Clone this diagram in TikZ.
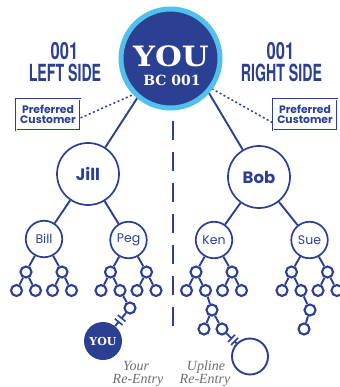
\documentclass[tikz,border=0pt]{standalone}
\usepackage{fontspec}
\setmainfont{Poppins}
\newfontfamily\slabfont{DejaVu Serif}
\newfontfamily\condfont{TeX Gyre Heros}
\newfontfamily\timesfont{Liberation Serif}
\usetikzlibrary{calc}
\definecolor{navy}{HTML}{2C4093}
\definecolor{sky}{HTML}{4FC1EC}
\definecolor{notegrey}{HTML}{6D6E71}
\newcommand\famtree[3]{% #1 parent node, #2 parent x, #3 prefix
  \node[dotc] (#3a) at (#2-18,272) {};
  \node[dotc] (#3b) at (#2+18,272) {};
  \node[dotc] (#3aa) at (#2-27.5,290.5) {};
  \node[dotc] (#3ab) at (#2-8.5,290.5) {};
  \node[dotc] (#3ba) at (#2+8.5,290.5) {};
  \node[dotc] (#3bb) at (#2+27.5,290.5) {};
  \draw[link] (#1) -- (#3a);
  \draw[link] (#1) -- (#3b);
  \draw[link] (#3a) -- (#3aa);
  \draw[link] (#3a) -- (#3ab);
  \draw[link] (#3b) -- (#3ba);
  \draw[link] (#3b) -- (#3bb);
}
\begin{document}
\begin{tikzpicture}[x=1pt,y=-1pt,
  person/.style={circle,draw=navy,line width=1.7pt,fill=white,inner sep=0pt,text=navy},
  bigp/.style={person,minimum size=62pt,font=\bfseries\fontsize{16.5}{16}\selectfont},
  midp/.style={person,minimum size=36.5pt,font=\fontsize{12.5}{12}\selectfont},
  dotc/.style={person,line width=2.1pt,minimum size=11pt},
  link/.style={draw=navy,line width=1.9pt},
  tick/.style={draw=navy,line width=1.6pt},
  dotline/.style={draw=navy,line width=1.5pt,dash pattern=on 2pt off 2.5pt},
  sidelbl/.style={text=navy,inner sep=0pt,anchor=base,font=\condfont\bfseries\fontsize{23.6}{24}\selectfont},
  pcbox/.style={draw=navy,line width=1.1pt,double=white,double distance=0.6pt,minimum width=64pt,minimum height=31pt,inner sep=0pt,align=center,text=navy,font=\bfseries\fontsize{10.8}{10}\selectfont},
  notetxt/.style={text=notegrey,inner sep=0pt,anchor=base,font=\timesfont\itshape\fontsize{14}{14}\selectfont},
]
\useasboundingbox (0,0) rectangle (339,387);
\fill[white] (0,0) rectangle (339,387);

% dashed divider
\coordinate (d1) at (173,121);
\coordinate (d2) at (173,336);
\draw[navy,line width=1.6pt,dash pattern=on 19pt off 12pt] (d1) -- (d2);

% top circle
\node[circle,fill=navy,draw=sky,line width=5pt,minimum size=99pt,inner sep=0pt] (you) at (170.5,58.5) {};
\node[text=white,inner sep=0pt,anchor=base,font=\slabfont\bfseries\fontsize{28}{28}\selectfont] (youtxt) at (171,67) {\scalebox{1.1}[1]{YOU}};
\node[text=white,inner sep=0pt,anchor=base,font=\slabfont\bfseries\fontsize{14}{14}\selectfont] (bctxt) at (172,86) {BC 001};

% side labels
\node[sidelbl] (l001) at (64.5,60) {\scalebox{0.7}[1]{001}};
\node[sidelbl] (lside) at (65,82) {\scalebox{0.6}[1]{LEFT SIDE}};
\node[sidelbl] (r001) at (280.5,60) {\scalebox{0.7}[1]{001}};
\node[sidelbl] (rside) at (281.5,82) {\scalebox{0.6}[1]{RIGHT SIDE}};

% preferred customer
\node[pcbox] (pcl) at (48,114.5) {Preferred\\Customer};
\node[pcbox] (pcr) at (305,114.5) {Preferred\\Customer};
\draw[dotline] (pcl.-6) -- (you.-136);
\draw[dotline] (pcr.-166) -- (you.-36);

% first level
\node[bigp] (jill) at (88,174) {Jill};
\node[bigp] (bob) at (259,177) {Bob};
\draw[link] (you.-130) -- (jill);
\draw[link] (you.-42) -- (bob);

% second level
\node[midp] (bill) at (44,239) {Bill};
\node[midp] (peg) at (128.5,240) {Peg};
\node[midp] (ken) at (214,240) {Ken};
\node[midp] (sue) at (309.5,240) {Sue};
\draw[link] (jill) -- (bill);
\draw[link] (jill) -- (peg);
\draw[link] (bob) -- (ken);
\draw[link] (bob) -- (sue);

\famtree{bill}{44}{bl}
\famtree{peg}{128.5}{pg}
\famtree{ken}{214}{kn}
\famtree{sue}{309.5}{su}

% Peg extension -> your re-entry
\node[dotc] (pe1) at (130,308) {};
\draw[link] (pgab) -- (pe1);
\node[circle,fill=navy,minimum size=38pt,inner sep=0pt,text=white,font=\slabfont\bfseries\fontsize{11}{11}\selectfont] (you2) at (103,341) {YOU};
\coordinate (pt1) at ($(pe1)!0.31!(you2)$);
\coordinate (pt2) at ($(pe1)!0.42!(you2)$);
\draw[link] (pe1) -- (pt1);
\draw[link] (pt2) -- (you2);
\draw[tick] ($(pt1)!5pt!90:(you2)$) -- ($(pt1)!5pt!-90:(you2)$);
\draw[tick] ($(pt2)!5pt!90:(you2)$) -- ($(pt2)!5pt!-90:(you2)$);

% Ken extension -> upline re-entry
\node[dotc] (ke1) at (212,310) {};
\node[dotc] (ke2) at (204,329) {};
\node[dotc] (ke3) at (222,329) {};
\draw[link] (knab) -- (ke1);
\draw[link] (ke1) -- (ke2);
\draw[link] (ke1) -- (ke3);
\node[person,line width=1.9pt,minimum size=36pt] (up2) at (250,356.5) {};
\coordinate (kt1) at ($(ke3)!0.34!(up2)$);
\coordinate (kt2) at ($(ke3)!0.45!(up2)$);
\draw[link] (ke3) -- (kt1);
\draw[link] (kt2) -- (up2);
\draw[tick] ($(kt1)!5pt!90:(up2)$) -- ($(kt1)!5pt!-90:(up2)$);
\draw[tick] ($(kt2)!5pt!90:(up2)$) -- ($(kt2)!5pt!-90:(up2)$);

% Sue extension
\node[dotc] (se1) at (310,310) {};
\node[dotc] (se2) at (304,329) {};
\draw[link] (suab) -- (se1);
\draw[link] (se1) -- (se2);

% notes
\node[notetxt] (yr1) at (136,370) {Your};
\node[notetxt] (yr2) at (138,383.5) {Re-Entry};
\node[notetxt] (ur1) at (206,370) {Upline};
\node[notetxt] (ur2) at (205,383.5) {Re-Entry};
\end{tikzpicture}
\end{document}
